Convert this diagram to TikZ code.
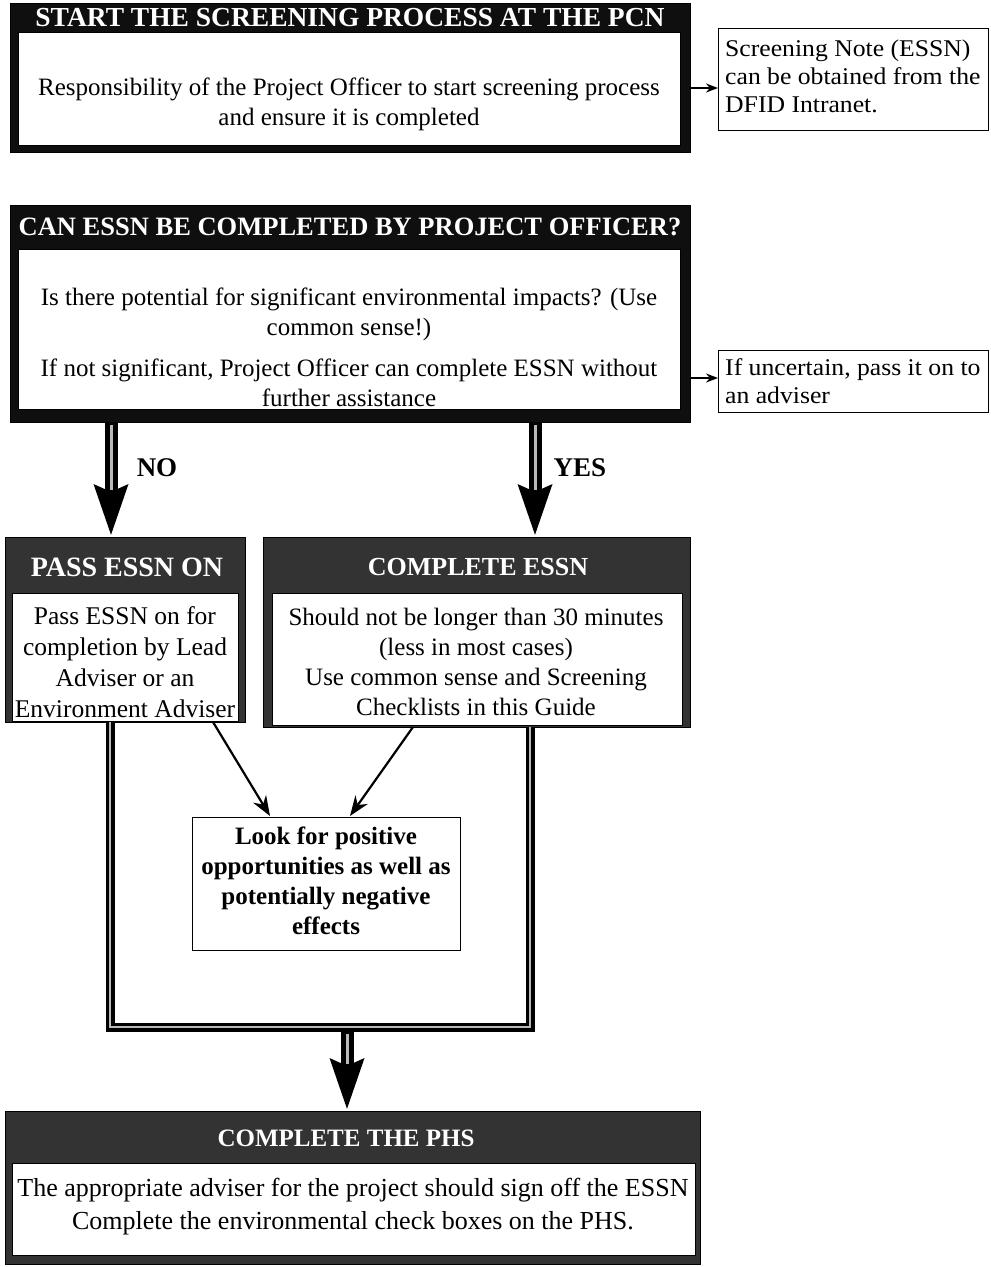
\documentclass[tikz,border=0pt]{standalone}
\usepackage{fontspec}
\setmainfont{Liberation Serif}
\newfontfamily\notefont{Liberation Serif}[FakeStretch=1.07]
\usetikzlibrary{arrows.meta,calc}
\definecolor{hdrdark}{gray}{0.06}
\definecolor{hdrmid}{gray}{0.2}
\begin{document}
\begin{tikzpicture}[x=1pt,y=-1pt,
  frame/.style={draw=black,line width=1.2pt,fill=hdrdark,inner sep=0pt,anchor=north west},
  framemid/.style={frame,fill=hdrmid},
  inbox/.style={draw=black,line width=0.8pt,fill=white,inner sep=0pt,anchor=north west},
  hdr/.style={text=white,font=\bfseries\fontsize{27.5}{27.5}\selectfont,inner sep=0pt},
  body/.style={font=\fontsize{25}{30}\selectfont,align=center,inner sep=0pt},
  notebox/.style={draw=black,line width=1pt,fill=white,inner sep=0pt,anchor=north west},
  notetext/.style={font=\notefont\fontsize{24}{28}\selectfont,align=left,inner sep=0pt,anchor=west},
  yn/.style={font=\bfseries\fontsize{27}{27}\selectfont,inner sep=0pt},
  thin/.style={draw=black,line width=1.6pt,-{Stealth[length=12pt,width=9pt]}},
  diag/.style={draw=black,line width=2.2pt,-{Stealth[length=20pt,width=15pt]}},
  fatblack/.style={draw=black,line width=13pt,-{Stealth[length=50pt,width=32pt,inset=6pt]}},
  fatcore/.style={draw=gray!55,line width=3pt,shorten >=46pt,shorten <=3pt},
  outline/.style={draw=black,line width=9pt,line join=miter},
  outcore/.style={draw=gray!55,line width=2pt,line join=miter}
]
\useasboundingbox (0,0) rectangle (991,1267);

% Box 1
\node[frame,minimum width=680pt,minimum height=149pt] (b1) at (10,3) {};
\node[inbox,minimum width=662pt,minimum height=113pt] (b1in) at (18,32) {};
\node[hdr] (b1h) at (350,18) {START THE SCREENING PROCESS AT THE PCN};
\node[body] (b1t) at (349,104) {Responsibility of the Project Officer to start screening process\\and ensure it is completed};

% Note 1
\node[notebox,minimum width=270pt,minimum height=102pt] (n1) at (718,28) {};
\node[notetext] (n1t) at (725,76) {Screening Note (ESSN)\\can be obtained from the\\DFID Intranet.};

% Box 2
\node[frame,minimum width=680pt,minimum height=217pt] (b2) at (10,205) {};
\node[inbox,minimum width=662pt,minimum height=160pt] (b2in) at (18,249) {};
\node[hdr,font=\bfseries\fontsize{26.5}{26.5}\selectfont] (b2h) at (350,227) {CAN ESSN BE COMPLETED BY PROJECT OFFICER?};
\node[body] (b2a) at (349,314) {Is there potential for significant environmental impacts? (Use\\common sense!)};
\node[body] (b2b) at (349,383) {If not significant, Project Officer can complete ESSN without\\further assistance};

% Note 2
\node[notebox,minimum width=270pt,minimum height=62pt] (n2) at (718,350) {};
\node[notetext] (n2t) at (725,381) {If uncertain, pass it on to\\an adviser};

% side arrows
\coordinate (a1s) at (690,88);
\coordinate (a1e) at (718,88);
\draw[thin] (a1s) -- (a1e);
\coordinate (a2s) at (690,378);
\coordinate (a2e) at (718,378);
\draw[thin] (a2s) -- (a2e);

% PASS ESSN ON
\node[framemid,minimum width=240pt,minimum height=185pt] (p) at (5,537) {};
\node[inbox,minimum width=226pt,minimum height=128pt] (pin) at (12,593) {};
\node[hdr,font=\bfseries\fontsize{28}{28}\selectfont] (ph) at (127,567) {PASS ESSN ON};
\node[body,font=\fontsize{25.5}{31}\selectfont] (pt) at (125,662) {Pass ESSN on for\\completion by Lead\\Adviser or an\\Environment Adviser};

% COMPLETE ESSN
\node[framemid,minimum width=427pt,minimum height=190pt] (c) at (263,537) {};
\node[inbox,minimum width=410pt,minimum height=132pt] (cin) at (272,593) {};
\node[hdr,font=\bfseries\fontsize{26}{26}\selectfont] (ch) at (478,567) {COMPLETE ESSN};
\node[body] (ct) at (476,662) {Should not be longer than 30 minutes\\(less in most cases)\\Use common sense and Screening\\Checklists in this Guide};

% NO / YES arrows
\coordinate (noS) at (111,422);
\coordinate (noE) at (111,536);
\coordinate (yesS) at (535,422);
\coordinate (yesE) at (535,536);
\draw[fatblack] (noS) -- (noE);
\draw[fatcore] (noS) -- (noE);
\draw[fatblack] (yesS) -- (yesE);
\draw[fatcore] (yesS) -- (yesE);
\node[yn] (no) at (157,468) {NO};
\node[yn] (yes) at (580,468) {YES};

% Look box
\node[notebox,minimum width=268pt,minimum height=133pt] (lk) at (192,817) {};
\node[body,font=\bfseries\fontsize{25}{30}\selectfont] (lkt) at (326,881) {Look for positive\\opportunities as well as\\potentially negative\\effects};

\coordinate (d1s) at (213,722);
\coordinate (d1e) at (270,816);
\coordinate (d2s) at (413,727);
\coordinate (d2e) at (350,816);
\draw[diag] (d1s) -- (d1e);
\draw[diag] (d2s) -- (d2e);

% Collecting frame
\coordinate (fl) at (110,722);
\coordinate (fbl) at (110,1027);
\coordinate (fbr) at (530,1027);
\coordinate (fr) at (530,727);
\draw[outline] (fl) -- (fbl) -- (fbr) -- (fr);
\draw[outcore] (fl) -- (fbl) -- (fbr) -- (fr);

% Final box
\node[framemid,minimum width=695pt,minimum height=153pt] (f) at (5,1111) {};
\node[inbox,minimum width=683pt,minimum height=92pt] (fin) at (12,1163) {};
\node[hdr,font=\bfseries\fontsize{25}{25}\selectfont] (fh) at (346,1138) {COMPLETE THE PHS};
\node[body,font=\fontsize{26}{33}\selectfont] (ft) at (353,1207) {The appropriate adviser for the project should sign off the ESSN\\Complete the environmental check boxes on the PHS.};

\coordinate (dnS) at (347,1031);
\coordinate (dnE) at (347,1110);
\draw[fatblack] (dnS) -- (dnE);
\draw[fatcore] (dnS) -- (dnE);
\end{tikzpicture}
\end{document}
